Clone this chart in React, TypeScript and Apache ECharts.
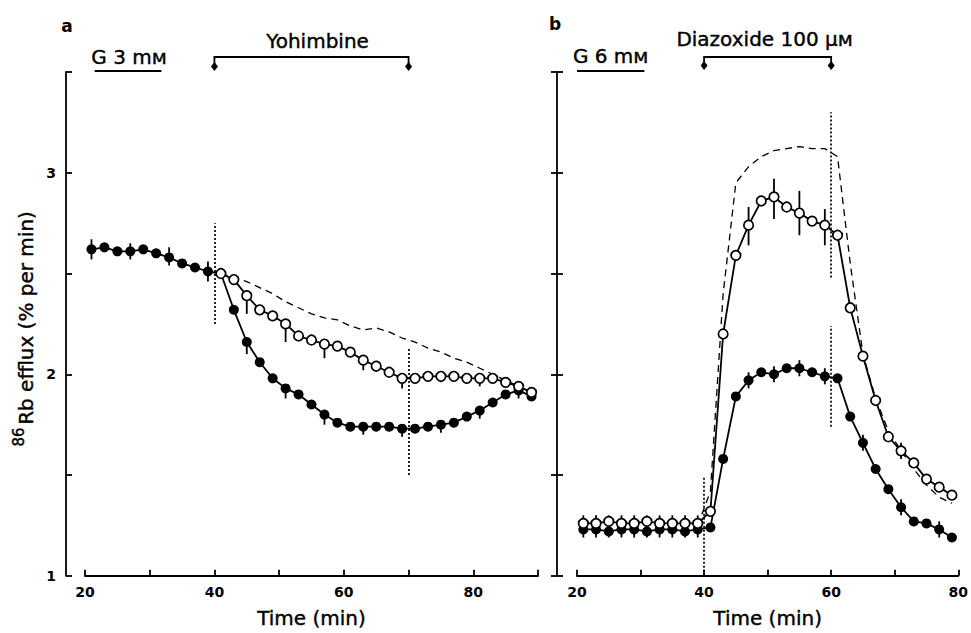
import React, { useEffect, useRef } from "react";
import * as echarts from "echarts";

const FONT = "DejaVu Sans";

// ---------- Panel a (Yohimbine) ----------
const aTime = [21, 23, 25, 27, 29, 31, 33, 35, 37, 39, 41, 43, 45, 47, 49, 51, 53, 55, 57, 59, 61, 63, 65, 67, 69, 71, 73, 75, 77, 79, 81, 83, 85, 87, 89];
const aFilled = [2.62, 2.63, 2.61, 2.61, 2.62, 2.6, 2.58, 2.55, 2.53, 2.51, 2.5, 2.32, 2.16, 2.06, 1.98, 1.93, 1.9, 1.85, 1.8, 1.76, 1.74, 1.74, 1.74, 1.74, 1.73, 1.73, 1.74, 1.75, 1.76, 1.79, 1.82, 1.86, 1.9, 1.92, 1.89];
const aOpenTime = [41, 43, 45, 47, 49, 51, 53, 55, 57, 59, 61, 63, 65, 67, 69, 71, 73, 75, 77, 79, 81, 83, 85, 87, 89];
const aOpen = [2.5, 2.47, 2.39, 2.32, 2.29, 2.25, 2.19, 2.17, 2.15, 2.14, 2.11, 2.07, 2.04, 2.01, 1.98, 1.98, 1.99, 1.99, 1.99, 1.98, 1.98, 1.98, 1.96, 1.94, 1.91];
const aDashed = [2.5, 2.48, 2.46, 2.43, 2.4, 2.36, 2.33, 2.3, 2.28, 2.27, 2.24, 2.22, 2.23, 2.21, 2.18, 2.16, 2.13, 2.11, 2.08, 2.06, 2.03, 2.0, 1.97, 1.94, 1.91];
const aFilledErr = [[21, 2.57, 2.67], [27, 2.57, 2.65], [33, 2.54, 2.63], [39, 2.46, 2.56], [45, 2.1, 2.16], [51, 1.88, 1.93], [57, 1.75, 1.8], [63, 1.7, 1.74], [69, 1.69, 1.73], [75, 1.71, 1.75], [81, 1.78, 1.82], [87, 1.88, 1.92]];
const aOpenErr = [[45, 2.3, 2.39], [51, 2.16, 2.25], [57, 2.08, 2.15], [63, 2.02, 2.07], [69, 1.93, 1.98], [75, 1.96, 1.99], [81, 1.94, 1.98], [87, 1.9, 1.94]];
const aDotted = [[40, 2.25, 2.75], [70, 1.5, 2.13]];

// ---------- Panel b (Diazoxide) ----------
const bTime = [21, 23, 25, 27, 29, 31, 33, 35, 37, 39, 41, 43, 45, 47, 49, 51, 53, 55, 57, 59, 61, 63, 65, 67, 69, 71, 73, 75, 77, 79];
const bFilled = [1.23, 1.23, 1.22, 1.23, 1.23, 1.22, 1.23, 1.23, 1.22, 1.23, 1.24, 1.58, 1.89, 1.97, 2.01, 2.0, 2.03, 2.03, 2.01, 1.99, 1.98, 1.79, 1.66, 1.53, 1.43, 1.34, 1.27, 1.26, 1.23, 1.19];
const bOpen = [1.26, 1.26, 1.27, 1.26, 1.26, 1.27, 1.26, 1.26, 1.26, 1.26, 1.32, 2.2, 2.59, 2.74, 2.86, 2.88, 2.83, 2.8, 2.76, 2.74, 2.69, 2.33, 2.09, 1.87, 1.69, 1.62, 1.56, 1.48, 1.44, 1.4];
const bDashTime = [39, 41, 43, 45, 47, 49, 51, 53, 55, 57, 59, 61, 63, 65, 67, 69, 71, 73, 75, 77, 79];
const bDashed = [1.25, 1.42, 2.4, 2.95, 3.03, 3.08, 3.11, 3.12, 3.13, 3.12, 3.12, 3.08, 2.55, 2.1, 1.88, 1.72, 1.62, 1.53, 1.45, 1.39, 1.36];
const bFilledErr = [[21, 1.19, 1.3], [23, 1.19, 1.3], [25, 1.19, 1.3], [27, 1.19, 1.3], [29, 1.19, 1.3], [31, 1.19, 1.3], [33, 1.19, 1.3], [35, 1.19, 1.3], [37, 1.19, 1.3], [39, 1.19, 1.3], [47, 1.93, 2.01], [51, 1.96, 2.04], [55, 1.99, 2.07], [59, 1.95, 2.03], [65, 1.62, 1.7], [71, 1.3, 1.38], [77, 1.19, 1.27]];
const bOpenErr = [[47, 2.64, 2.83], [51, 2.77, 2.97], [55, 2.69, 2.91], [59, 2.64, 2.82], [71, 1.58, 1.66]];
const bDotted = [[40, 1.0, 1.49], [60, 2.48, 3.3], [60, 1.74, 2.24]];

// ---------- Axis ticks ----------
const xLabelValues = [20, 40, 60, 80];
const yLabelValues = [1, 2, 3];

const pairs = (xs: number[], ys: number[]) => xs.map((x, i) => [x, ys[i]]);

const BLACK = "#000";
const LW = 1.8;

const circleSeries = (xi: number, yi: number, data: number[][], open: boolean, z: number) => ({
  type: "line",
  xAxisIndex: xi,
  yAxisIndex: yi,
  data,
  symbol: "circle",
  symbolSize: open ? 9.5 : 10,
  showAllSymbol: true,
  itemStyle: { color: open ? "#fff" : BLACK, borderColor: BLACK, borderWidth: open ? 1.7 : 0 },
  lineStyle: { color: BLACK, width: LW },
  z,
  silent: true,
});

const errSeries = (xi: number, yi: number, data: number[][], z: number) => ({
  type: "custom",
  xAxisIndex: xi,
  yAxisIndex: yi,
  data,
  z,
  silent: true,
  encode: { x: 0, y: [1, 2] },
  renderItem: (_p: any, api: any) => {
    const p1 = api.coord([api.value(0), api.value(1)]);
    const p2 = api.coord([api.value(0), api.value(2)]);
    return {
      type: "line",
      shape: { x1: p1[0], y1: p1[1], x2: p2[0], y2: p2[1] },
      style: { stroke: BLACK, lineWidth: LW },
    };
  },
});

const dashedSeries = (xi: number, yi: number, data: number[][], dotted: number[][]) => ({
  type: "line",
  xAxisIndex: xi,
  yAxisIndex: yi,
  data,
  symbol: "none",
  lineStyle: { color: BLACK, width: 1.3, type: [7, 5] },
  z: 2,
  silent: true,
  markLine: {
    silent: true,
    symbol: ["none", "none"],
    label: { show: false },
    lineStyle: { color: BLACK, width: 1.7, type: [2, 2] },
    emphasis: { disabled: true },
    data: dotted.map(([x, lo, hi]) => [{ coord: [x, lo] }, { coord: [x, hi] }]),
  },
});

const xAxisCommon = (gi: number, max: number) => ({
  type: "value",
  gridIndex: gi,
  min: 20,
  max,
  interval: 10,
  axisLine: { show: true, onZero: false, lineStyle: { color: BLACK, width: LW } },
  axisTick: { show: true, inside: true, length: 6, lineStyle: { color: BLACK, width: LW } },
  splitLine: { show: false },
  axisLabel: {
    margin: 9,
    fontFamily: FONT,
    fontWeight: "bold",
    fontSize: 14,
    color: BLACK,
    formatter: (v: number) => (xLabelValues.includes(v) ? String(v) : ""),
  },
  name: "Time (min)",
  nameLocation: "middle",
  nameGap: 32,
  nameTextStyle: { fontFamily: FONT, fontSize: 20, color: BLACK, textBorderColor: BLACK, textBorderWidth: 0.4 },
});

const yAxisBase = (gi: number, offset: number) => ({
  type: "value",
  gridIndex: gi,
  position: "left",
  min: 1,
  max: 3.5,
  interval: 0.5,
  offset,
  splitLine: { show: false },
});

const option: any = {
  animation: false,
  backgroundColor: "#fff",
  grid: [
    { left: 85, right: 433, top: 72, bottom: 50 },
    { left: 577, right: 9, top: 72, bottom: 50 },
  ],
  xAxis: [xAxisCommon(0, 90), xAxisCommon(1, 80)],
  yAxis: [
    {
      ...yAxisBase(0, 19),
      axisLine: { show: true, onZero: false, lineStyle: { color: BLACK, width: LW } },
      axisTick: { show: true, inside: true, length: 6, lineStyle: { color: BLACK, width: LW } },
      axisLabel: {
        margin: 10,
        fontFamily: FONT,
        fontWeight: "bold",
        fontSize: 14,
        color: BLACK,
        formatter: (v: number) => (yLabelValues.includes(v) ? String(v) : ""),
      },
    },
    {
      ...yAxisBase(1, 20),
      axisLine: { show: true, onZero: false, lineStyle: { color: BLACK, width: LW } },
      axisTick: { show: true, inside: true, length: 6, lineStyle: { color: BLACK, width: LW } },
      axisLabel: { show: false },
    },
    {
      ...yAxisBase(1, 20),
      axisLine: { show: false, onZero: false },
      axisTick: { show: true, inside: false, length: 6, lineStyle: { color: BLACK, width: LW } },
      axisLabel: { show: false },
    },
  ],
  series: [
    errSeries(0, 0, aFilledErr, 2),
    errSeries(0, 0, aOpenErr, 2),
    dashedSeries(0, 0, pairs(aOpenTime, aDashed), aDotted),
    circleSeries(0, 0, pairs(aTime, aFilled), false, 3),
    circleSeries(0, 0, pairs(aOpenTime, aOpen), true, 4),
    errSeries(1, 1, bFilledErr, 2),
    errSeries(1, 1, bOpenErr, 2),
    dashedSeries(1, 1, pairs(bDashTime, bDashed), bDotted),
    circleSeries(1, 1, pairs(bTime, bFilled), false, 3),
    circleSeries(1, 1, pairs(bTime, bOpen), true, 4),
  ],
};

const txt = (x: number, y: number, text: string, size: number, weight = "normal", rotation = 0) => ({
  type: "text",
  x,
  y,
  rotation,
  silent: true,
  style: {
    text,
    fontFamily: FONT,
    fontSize: size,
    fontWeight: weight,
    fill: BLACK,
    stroke: weight === "normal" ? BLACK : undefined,
    lineWidth: weight === "normal" ? 0.4 : 0,
    align: "center",
    verticalAlign: "middle",
    textAlign: "center",
    textVerticalAlign: "middle",
  },
});

const diamond = (x: number, tip: number) => ({
  type: "polygon",
  silent: true,
  shape: { points: [[x, tip - 9], [x + 3.5, tip - 4.5], [x, tip], [x - 3.5, tip - 4.5]] },
  style: { fill: BLACK },
});

const bracket = (x1: number, x2: number, yLine: number, tip: number) => [
  {
    type: "polyline",
    silent: true,
    shape: { points: [[x1, tip - 4], [x1, yLine], [x2, yLine], [x2, tip - 4]] },
    style: { stroke: BLACK, lineWidth: LW, fill: "none" },
  },
  diamond(x1, tip),
  diamond(x2, tip),
];

const bar = (x1: number, x2: number, y: number) => ({
  type: "line",
  silent: true,
  shape: { x1, y1: y, x2, y2: y },
  style: { stroke: BLACK, lineWidth: 2 },
});

export default function App() {
  const ref = useRef<HTMLDivElement>(null);
  useEffect(() => {
    const chart = echarts.init(ref.current!, null, { renderer: "svg" });
    chart.setOption(option);
    const gx = (ai: number, v: number) => chart.convertToPixel({ xAxisIndex: ai } as any, v) as number;
    const gy = (ai: number, v: number) => chart.convertToPixel({ yAxisIndex: ai } as any, v) as number;
    const topA = gy(0, 3.5);
    const topB = gy(1, 3.5);
    const ax1 = gx(0, 21.5), ax2 = gx(0, 31.8);
    const ay1 = gx(0, 40), ay2 = gx(0, 70);
    const bx1 = gx(1, 20), bx2 = gx(1, 30.6);
    const bd1 = gx(1, 40), bd2 = gx(1, 60);
    const graphic: any[] = [
      txt(67, 26, "a", 17, "bold"),
      txt(555, 24, "b", 17, "bold"),
      txt((ax1 + ax2) / 2 + 1, topA - 15, "G 3 mм", 20),
      bar(ax1, ax2, topA - 1),
      txt((ay1 + ay2) / 2 + 6, topA - 31, "Yohimbine", 20),
      ...bracket(ay1, ay2, topA - 15, topA - 1),
      txt((bx1 + bx2) / 2, topB - 16, "G 6 mм", 20),
      bar(bx1, bx2, topB - 1),
      txt((bd1 + bd2) / 2 - 3, topB - 33, "Diazoxide 100 μм", 20),
      ...bracket(bd1, bd2, topB - 15, topB - 2),
      txt(26, 318, "Rb efflux (% per min)", 20, "normal", Math.PI / 2),
      txt(19, 437, "86", 15, "normal", Math.PI / 2),
    ];
    chart.setOption({ graphic });
    return () => chart.dispose();
  }, []);
  return (
    <div
      ref={ref}
      style={{ position: "fixed", left: 0, top: 0, width: 971, height: 633, background: "#fff" }}
    />
  );
}
